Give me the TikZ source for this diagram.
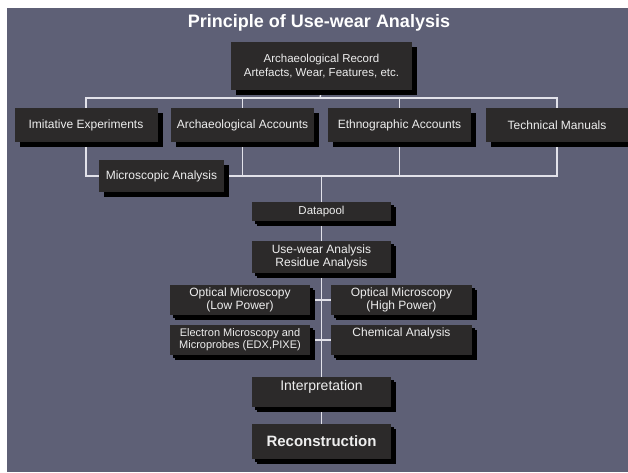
\documentclass[tikz,border=0pt]{standalone}
\usepackage{fontspec}
\setmainfont{Liberation Sans}
\usetikzlibrary{shadows,backgrounds}
\definecolor{slate}{RGB}{94,96,118}
\definecolor{boxgray}{RGB}{44,42,42}
\definecolor{linegray}{RGB}{226,226,234}
\definecolor{textgray}{RGB}{238,238,238}

\tikzset{
  card/.style={fill=boxgray, text=textgray, align=center, inner sep=2pt,
    font=\fontsize{12}{12.5}\selectfont,
    general shadow={fill=black, shadow xshift=5pt, shadow yshift=-5pt}},
  smallcard/.style={card,
    general shadow={fill=black, shadow xshift=3pt, shadow yshift=-3pt}},
  link/.style={draw=linegray, line width=1.4pt}
}

\begin{document}
\begin{tikzpicture}[x=1pt,y=-1pt]
  \useasboundingbox (0,0) rectangle (628,472);
  \begin{scope}[on background layer]
    \fill[slate] (7,8) rectangle (628,472);
  \end{scope}

  \node[font=\fontsize{18}{20}\selectfont\bfseries, text=white] (title) at (319,23) {Principle of Use-wear Analysis};

  % record
  \node[card, minimum width=181pt, minimum height=48pt, font=\fontsize{11.5}{14.5}\selectfont] (rec) at (321.5,66) {Archaeological Record\\Artefacts, Wear, Features, etc.};

  % sources
  \foreach \x/\n/\t in {86/imit/Imitative Experiments, 242.5/archacc/Archaeological Accounts,
      399.5/ethno/Ethnographic Accounts, 557/techman/Technical Manuals} {
    \node[card, minimum width=143pt, minimum height=34pt] (\n) at (\x,125) {\t};
  }
  \node[card, minimum width=125pt, minimum height=32pt] (micro) at (161.5,176) {Microscopic Analysis};

  % analysis
  \node[smallcard, minimum width=139pt, minimum height=19pt, font=\fontsize{11.5}{12}\selectfont] (datapool) at (321.5,211.5) {Datapool};
  \node[smallcard, minimum width=139pt, minimum height=32pt] (usewear) at (321.5,257) {Use-wear Analysis\\Residue Analysis};
  \node[smallcard, minimum width=140pt, minimum height=30pt] (optlow) at (240,300) {Optical Microscopy\\(Low Power)};
  \node[smallcard, minimum width=141pt, minimum height=30pt] (opthigh) at (401.5,300) {Optical Microscopy\\(High Power)};
  \node[smallcard, minimum width=140pt, minimum height=30pt, font=\fontsize{11}{12}\selectfont] (electron) at (240,340) {Electron Microscopy and\\Microprobes (EDX,PIXE)};
  \node[smallcard, minimum width=141pt, minimum height=30pt, text depth=16pt] (chem) at (401.5,340) {Chemical Analysis};

  % result
  \node[smallcard, minimum width=139pt, minimum height=30pt, text depth=13pt, font=\fontsize{14}{15}\selectfont] (interp) at (321.5,392) {Interpretation};
  \node[smallcard, minimum width=139pt, minimum height=35pt, font=\fontsize{15}{16}\selectfont\bfseries] (recon) at (321.5,441.5) {Reconstruction};

  \begin{scope}[on background layer]
    \coordinate (bus) at (320,98);
    \draw[link] (rec.south) -- (bus);
    \foreach \n in {imit,archacc,ethno,techman}
      \draw[link] (\n.north) |- (bus);
    \draw[link] (imit.south) |- (micro.west);
    \draw[link] (micro.east) -| (techman.south);
    \draw[link] (archacc.south) -- (archacc.south |- micro.east);
    \draw[link] (ethno.south) -- (ethno.south |- micro.east);
    \draw[link] (datapool.north) -- (datapool.north |- micro.east);
    \draw[link] (datapool) -- (usewear) -- (interp) -- (recon);
    \draw[link] (optlow) -- (opthigh);
    \draw[link] (electron) -- (chem);
  \end{scope}
\end{tikzpicture}
\end{document}
